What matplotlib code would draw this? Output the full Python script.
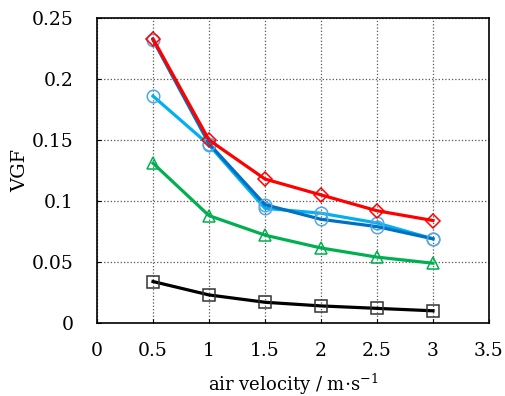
import matplotlib
matplotlib.use("Agg")
import matplotlib.pyplot as plt

# Daten
velocity = [0.5, 1.0, 1.5, 2.0, 2.5, 3.0]
vgf_red = [0.233, 0.150, 0.118, 0.105, 0.092, 0.084]
vgf_darkblue = [0.232, 0.147, 0.097, 0.085, 0.079, 0.069]
vgf_lightblue = [0.186, 0.146, 0.094, 0.090, 0.082, 0.069]
vgf_green = [0.131, 0.088, 0.072, 0.0615, 0.054, 0.049]
vgf_black = [0.034, 0.023, 0.017, 0.014, 0.012, 0.010]

xticks = [0, 0.5, 1, 1.5, 2, 2.5, 3, 3.5]
xticklabels = ['0', '0.5', '1', '1.5', '2', '2.5', '3', '3.5']
yticks = [0, 0.05, 0.1, 0.15, 0.2, 0.25]
yticklabels = ['0', '0.05', '0.1', '0.15', '0.2', '0.25']

plt.rcParams['font.family'] = ['DejaVu Serif']
plt.rcParams['mathtext.fontset'] = 'dejavuserif'

fig = plt.figure(figsize=(5.06, 3.96), dpi=100)
ax = fig.add_axes([97 / 506, 1 - 323 / 396, 392 / 506, 305 / 396])

lw = 2.3
ms = 9
ax.plot(velocity, vgf_black, color='black', lw=lw, marker='s', ms=ms,
        mfc='none', mec='#333333', mew=1.1)
ax.plot(velocity, vgf_green, color='#00B050', lw=lw, marker='^', ms=ms,
        mfc='none', mec='#00B050', mew=1.1)
ax.plot(velocity, vgf_lightblue, color='#00B0F0', lw=lw, marker='o', ms=ms,
        mfc='none', mec='#4AA8E8', mew=1.1)
ax.plot(velocity, vgf_darkblue, color='#0070C0', lw=lw, marker='o', ms=ms,
        mfc='none', mec='#5AA5E0', mew=1.1)
ax.plot(velocity, vgf_red, color='#FF0000', lw=lw, marker='D', ms=7.5,
        mfc='none', mec='#FF0000', mew=1.1)

ax.set_xlim(0, 3.5)
ax.set_ylim(0, 0.25)
ax.set_xticks(xticks)
ax.set_xticklabels(xticklabels)
ax.set_yticks(yticks)
ax.set_yticklabels(yticklabels)
ax.tick_params(direction='in', length=3, labelsize=13.5)
ax.tick_params(axis='y', pad=17)
ax.tick_params(axis='x', pad=14)
ax.grid(True, linestyle=':', color='#555555', linewidth=0.9)
for s in ax.spines.values():
    s.set_linewidth(1.2)

ax.set_xlabel('air velocity / m$\\cdot$s$^{-1}$', fontsize=13, labelpad=8)
ax.set_ylabel('VGF', fontsize=14, labelpad=2)

fig.savefig('out.png', dpi=100)
